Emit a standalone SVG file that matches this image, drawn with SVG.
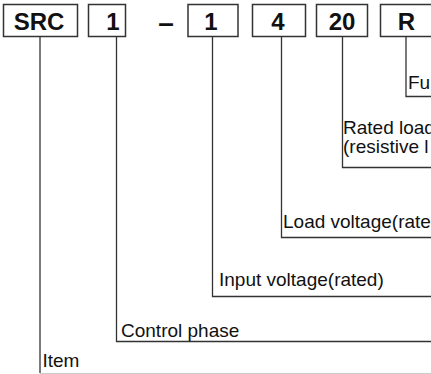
<svg xmlns="http://www.w3.org/2000/svg" width="431" height="374" viewBox="0 0 431 374">
<style>
.box{fill:#fff;stroke:#333;stroke-width:1.5}
.bt{font-family:"Liberation Sans",Arial,sans-serif;font-weight:bold;font-size:24px;fill:#111;text-anchor:middle}
.lt{font-family:"Liberation Sans",Arial,sans-serif;font-size:19px;fill:#111}
.ln{fill:none;stroke:#333;stroke-width:1.3}
</style>
<rect width="431" height="374" fill="#fff"/>
<g id="connectors">
<path class="ln" d="M406,37V96.5H431"/>
<path class="ln" d="M342.5,37V167.5H431"/>
<path class="ln" d="M281.5,37V237.5H431"/>
<path class="ln" d="M212.5,37V296.5H431"/>
<path class="ln" d="M116.5,37V341.5H431"/>
<path class="ln" d="M40,37V373"/>
<path d="M40,373.5H431" fill="none" stroke="#ccc" stroke-width="1"/>
</g>
<g id="n-src"><rect class="box" x="3.5" y="4.5" width="74" height="32"/><text class="bt" x="39" y="29.5">SRC</text></g>
<g id="n-1a"><rect class="box" x="88.5" y="4.5" width="37" height="32"/><text class="bt" x="113" y="29.5">1</text></g>
<g id="n-dash"><text class="bt" x="166" y="32" style="font-size:28px">–</text></g>
<g id="n-1b"><rect class="box" x="188" y="4.5" width="50" height="32"/><text class="bt" x="211" y="29.5">1</text></g>
<g id="n-4"><rect class="box" x="252.5" y="4.5" width="53" height="32"/><text class="bt" x="278" y="29.5">4</text></g>
<g id="n-20"><rect class="box" x="316.5" y="4.5" width="51" height="32"/><text class="bt" x="342" y="29.5">20</text></g>
<g id="n-r"><rect class="box" x="380.5" y="4.5" width="52" height="32"/><text class="bt" x="406.5" y="29.5">R</text></g>
<g id="labels">
<text class="lt" x="408" y="89">Fu</text>
<text class="lt" x="343" y="134">Rated load</text>
<text class="lt" x="343" y="153">(resistive l</text>
<text class="lt" x="283" y="228">Load voltage(rate</text>
<text class="lt" x="219" y="286">Input voltage(rated)</text>
<text class="lt" x="121" y="337">Control phase</text>
<text class="lt" x="42.5" y="367">Item</text>
</g>
</svg>
